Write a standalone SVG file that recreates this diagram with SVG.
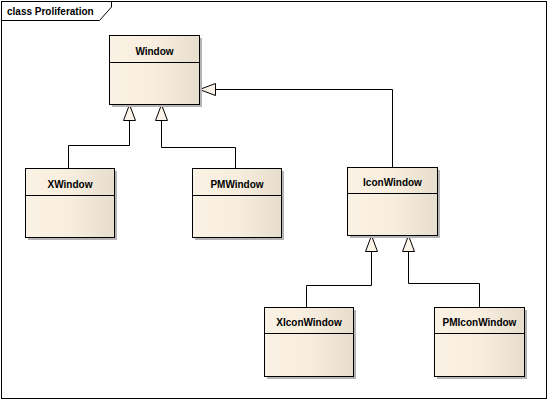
<svg xmlns="http://www.w3.org/2000/svg" width="549" height="401" viewBox="0 0 549 401">
<defs>
<linearGradient id="g" x1="0" y1="0" x2="1" y2="0">
<stop offset="0" stop-color="#FAF2E4"/>
<stop offset="0.5" stop-color="#F8EEDF"/>
<stop offset="1" stop-color="#E6DDCD"/>
</linearGradient>
<marker id="gen" viewBox="0 0 18 14" refX="17" refY="7" markerWidth="18" markerHeight="14" markerUnits="userSpaceOnUse" orient="auto">
<path d="M1,1 L17,7 L1,13 Z" fill="#FBF4E8" stroke="#000" stroke-width="1"/>
</marker>
</defs>
<style>
.box{fill:url(#g);stroke:#000;stroke-width:1}
.sh{fill:#B4B4B4}
.sep{stroke:#000;stroke-width:1}
.t{font-family:"Liberation Sans",Arial,sans-serif;font-size:10px;font-weight:bold;text-anchor:middle;fill:#000}
.c{fill:none;stroke:#000;stroke-width:1;marker-end:url(#gen)}
</style>
<rect x="0" y="0" width="549" height="401" fill="#FFFFFF"/>
<g id="frame">
<rect x="1.5" y="1.5" width="545" height="397" fill="none" stroke="#000"/>
<path d="M1.5,20.5 H99.5 L111.5,7 V1.5" fill="none" stroke="#000"/>
<text x="7" y="15" style="font-family:'Liberation Sans',Arial,sans-serif;font-size:10px;font-weight:bold">class Proliferation</text>
</g>
<g id="connectors">
<path class="c" d="M68.5,168 V145.5 H129.5 V104.5"/>
<path class="c" d="M235.5,168 V147.5 H161.5 V104.5"/>
<path class="c" d="M392.5,167 V89.5 H199.5"/>
<path class="c" d="M306.5,307 V285.5 H371.5 V235.5"/>
<path class="c" d="M479.5,307 V283.5 H408.5 V235.5"/>
</g>
<g id="Window">
<rect class="sh" x="112" y="38" width="90" height="69"/>
<rect class="box" x="109.5" y="35.5" width="90" height="69"/>
<line class="sep" x1="109.5" y1="62.5" x2="199.5" y2="62.5"/>
<text class="t" x="154.5" y="54.5">Window</text>
</g>
<g id="XWindow">
<rect class="sh" x="28" y="171" width="89" height="69"/>
<rect class="box" x="25.5" y="168.5" width="89" height="69"/>
<line class="sep" x1="25.5" y1="195.5" x2="114.5" y2="195.5"/>
<text class="t" x="70" y="187.5">XWindow</text>
</g>
<g id="PMWindow">
<rect class="sh" x="195" y="171" width="89" height="69"/>
<rect class="box" x="192.5" y="168.5" width="89" height="69"/>
<line class="sep" x1="192.5" y1="195.5" x2="281.5" y2="195.5"/>
<text class="t" x="237" y="187.5">PMWindow</text>
</g>
<g id="IconWindow">
<rect class="sh" x="350" y="170" width="90" height="68"/>
<rect class="box" x="347.5" y="167.5" width="90" height="68"/>
<line class="sep" x1="347.5" y1="193.5" x2="437.5" y2="193.5"/>
<text class="t" x="392.5" y="185.5">IconWindow</text>
</g>
<g id="XIconWindow">
<rect class="sh" x="267" y="310" width="89" height="69"/>
<rect class="box" x="264.5" y="307.5" width="89" height="69"/>
<line class="sep" x1="264.5" y1="333.5" x2="353.5" y2="333.5"/>
<text class="t" x="309" y="325.5">XIconWindow</text>
</g>
<g id="PMIconWindow">
<rect class="sh" x="437" y="310" width="90" height="69"/>
<rect class="box" x="434.5" y="307.5" width="90" height="69"/>
<line class="sep" x1="434.5" y1="333.5" x2="524.5" y2="333.5"/>
<text class="t" x="479.5" y="325.5">PMIconWindow</text>
</g>
</svg>
